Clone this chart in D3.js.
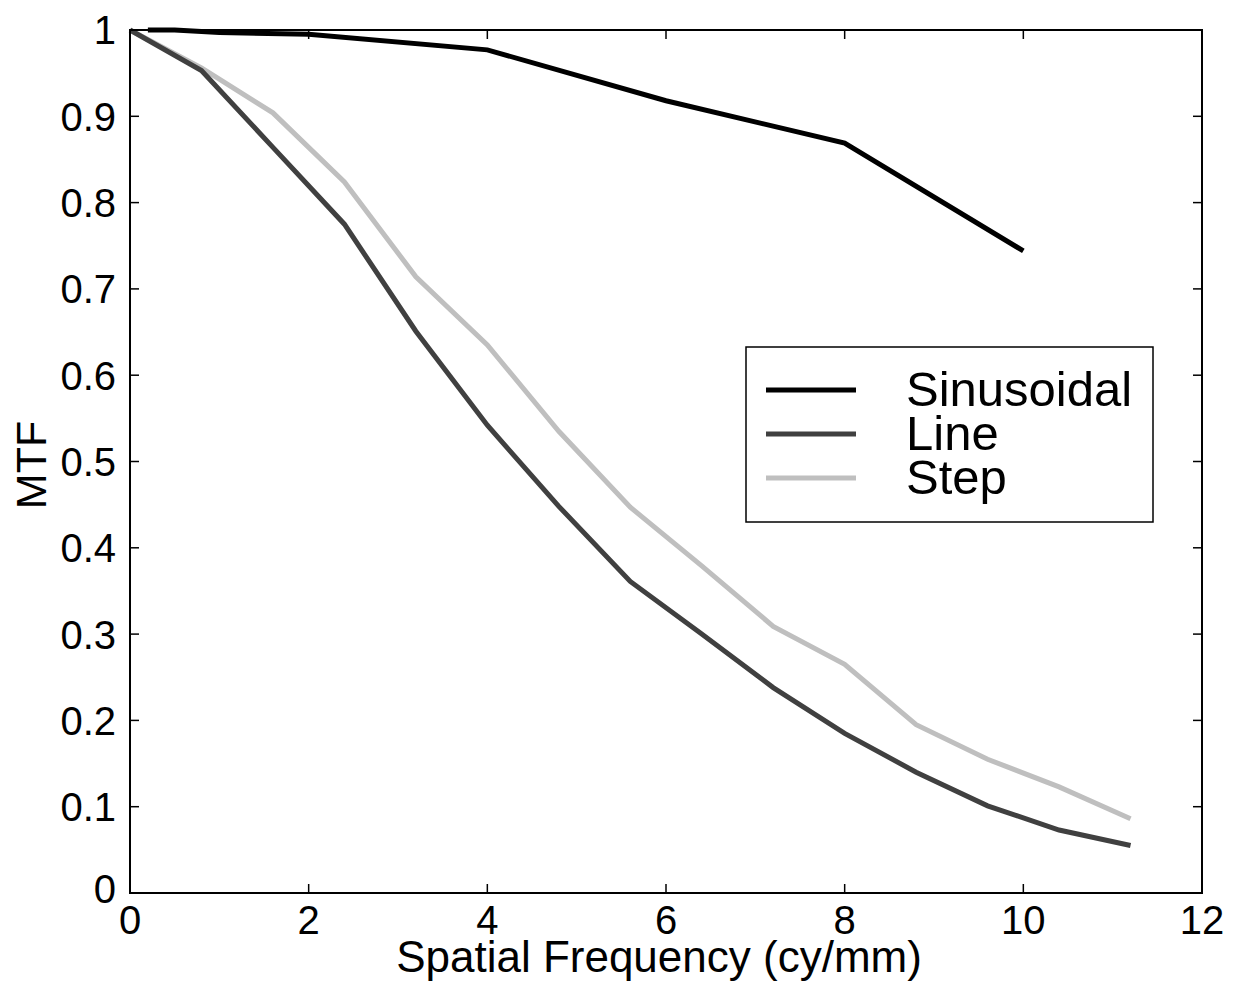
<!DOCTYPE html>
<html>
<head>
<meta charset="utf-8">
<script src="https://cdn.jsdelivr.net/npm/d3@7"></script>
<style>
  html, body { margin: 0; padding: 0; background: #fff; }
  svg { display: block; font-family: "Liberation Sans", Arial, Helvetica, sans-serif; }
</style>
</head>
<body>
<svg id="chart" width="1239" height="985"></svg>
<script>
// ---- Data ----
const sinX = [0.2, 0.5, 1, 2, 4, 6, 8, 10];
const sinY = [1.0, 1.0, 0.997, 0.995, 0.977, 0.918, 0.869, 0.744];

const lsfX = [0, 0.8, 1.6, 2.4, 3.2, 4.0, 4.8, 5.6, 6.4, 7.2, 8.0, 8.8, 9.6, 10.4, 11.2];
const lineY = [1.0, 0.953, 0.864, 0.775, 0.651, 0.542, 0.448, 0.361, 0.300, 0.238, 0.185, 0.140, 0.101, 0.073, 0.055];
const stepY = [1.0, 0.956, 0.904, 0.824, 0.714, 0.635, 0.535, 0.447, 0.379, 0.309, 0.265, 0.195, 0.155, 0.123, 0.086];

const seriesNames = ["Sinusoidal", "Line", "Step"];
const seriesColors = ["#000000", "#404040", "#bfbfbf"];

const xTicks = [0, 2, 4, 6, 8, 10, 12];
const yTicks = [0, 0.1, 0.2, 0.3, 0.4, 0.5, 0.6, 0.7, 0.8, 0.9, 1];
const yTickLabels = ["0", "0.1", "0.2", "0.3", "0.4", "0.5", "0.6", "0.7", "0.8", "0.9", "1"];

(function () {
// ---- Layout ----
const pL = 130, pR = 1202, pT = 30, pB = 893;
const svg = d3.select("#chart");

const x = d3.scaleLinear().domain([0, 12]).range([pL, pR]);
const y = d3.scaleLinear().domain([0, 1]).range([pB, pT]);

const series = [
  { name: seriesNames[0], color: seriesColors[0], pts: sinX.map((v, i) => [v, sinY[i]]) },
  { name: seriesNames[1], color: seriesColors[1], pts: lsfX.map((v, i) => [v, lineY[i]]) },
  { name: seriesNames[2], color: seriesColors[2], pts: lsfX.map((v, i) => [v, stepY[i]]) }
];

const line = d3.line().x(d => x(d[0])).y(d => y(d[1]));

[2, 1, 0].forEach(i => {
  const s = series[i];
  svg.append("path")
    .attr("d", line(s.pts))
    .attr("fill", "none")
    .attr("stroke", s.color)
    .attr("stroke-width", 5)
    .attr("stroke-linejoin", "miter")
    .attr("stroke-linecap", "butt");
});

// frame
svg.append("rect")
  .attr("x", pL).attr("y", pT)
  .attr("width", pR - pL).attr("height", pB - pT)
  .attr("fill", "none").attr("stroke", "#000").attr("stroke-width", 2);

// ticks inward on all sides
const tl = 9;
const tickG = svg.append("g").attr("stroke", "#000").attr("stroke-width", 1.5);
xTicks.forEach(t => {
  tickG.append("line").attr("x1", x(t)).attr("x2", x(t)).attr("y1", pB).attr("y2", pB - tl);
  tickG.append("line").attr("x1", x(t)).attr("x2", x(t)).attr("y1", pT).attr("y2", pT + tl);
});
yTicks.forEach(t => {
  tickG.append("line").attr("x1", pL).attr("x2", pL + tl).attr("y1", y(t)).attr("y2", y(t));
  tickG.append("line").attr("x1", pR).attr("x2", pR - tl).attr("y1", y(t)).attr("y2", y(t));
});

// tick labels
const fsTick = 40;
xTicks.forEach(t => {
  svg.append("text")
    .attr("x", x(t)).attr("y", pB + 12 + fsTick * 0.72)
    .attr("text-anchor", "middle")
    .attr("font-size", fsTick)
    .text(String(t));
});
yTicks.forEach((t, i) => {
  svg.append("text")
    .attr("x", pL - 14).attr("y", y(t) + fsTick * 0.36 - (t === 0 ? 4 : 0))
    .attr("text-anchor", "end")
    .attr("font-size", fsTick)
    .text(yTickLabels[i]);
});

// axis labels
svg.append("text")
  .attr("x", (pL + pR) / 2 - 7).attr("y", 972)
  .attr("text-anchor", "middle")
  .attr("font-size", 44)
  .text("Spatial Frequency (cy/mm)");

svg.append("text")
  .attr("transform", `translate(46, 465) rotate(-90)`)
  .attr("text-anchor", "middle")
  .attr("font-size", 43)
  .text("MTF");

// legend
const lg = svg.append("g");
lg.append("rect")
  .attr("x", 746).attr("y", 347).attr("width", 407).attr("height", 175)
  .attr("fill", "#fff").attr("stroke", "#000").attr("stroke-width", 1.5);
const legY = [390, 434, 478];
series.forEach((s, i) => {
  lg.append("line")
    .attr("x1", 766).attr("x2", 856)
    .attr("y1", legY[i]).attr("y2", legY[i])
    .attr("stroke", s.color).attr("stroke-width", 5);
  lg.append("text")
    .attr("x", 906).attr("y", legY[i] + 16)
    .attr("font-size", 49)
    .text(s.name);
});
})();
</script>
</body>
</html>
